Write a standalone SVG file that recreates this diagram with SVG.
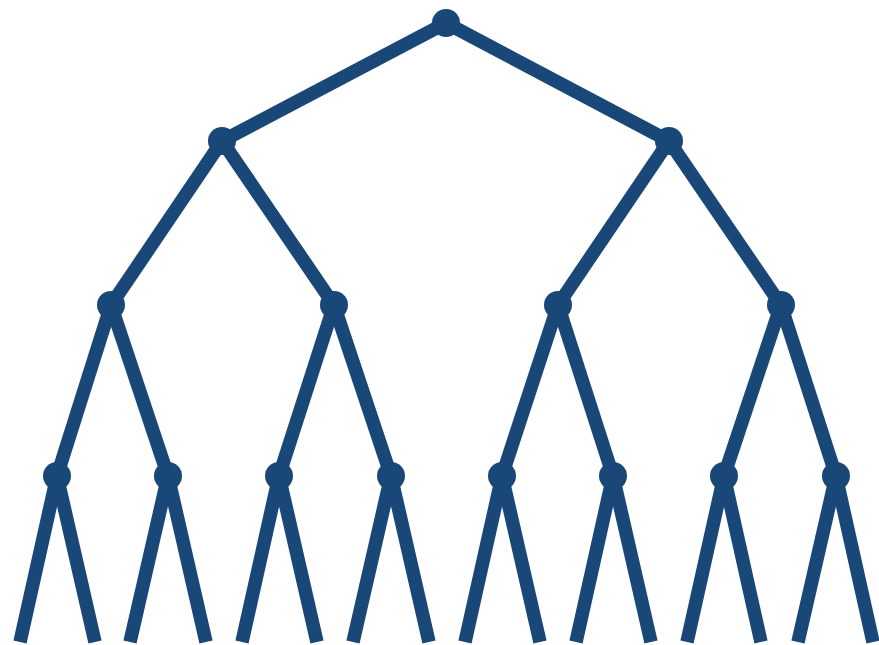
<svg xmlns="http://www.w3.org/2000/svg" width="879" height="645" viewBox="0 0 879 645">
<style>
.e{stroke:#194878;stroke-width:13.5;fill:none;stroke-linecap:butt}
.n{fill:#194878}
</style>
<rect width="879" height="645" fill="#ffffff"/>
<g id="connectors">
<line class="e" x1="446" y1="23" x2="222" y2="141"/>
<line class="e" x1="446" y1="23" x2="669" y2="141"/>
<line class="e" x1="222" y1="141" x2="111" y2="305"/>
<line class="e" x1="222" y1="141" x2="334" y2="305"/>
<line class="e" x1="669" y1="141" x2="558" y2="305"/>
<line class="e" x1="669" y1="141" x2="781" y2="305"/>
<line class="e" x1="111" y1="305" x2="57" y2="476"/>
<line class="e" x1="111" y1="305" x2="168" y2="476"/>
<line class="e" x1="334" y1="305" x2="279" y2="476"/>
<line class="e" x1="334" y1="305" x2="391" y2="476"/>
<line class="e" x1="558" y1="305" x2="502" y2="476"/>
<line class="e" x1="558" y1="305" x2="613" y2="476"/>
<line class="e" x1="781" y1="305" x2="724" y2="476"/>
<line class="e" x1="781" y1="305" x2="836" y2="476"/>
<line class="e" x1="57" y1="476" x2="20" y2="642"/>
<line class="e" x1="57" y1="476" x2="95" y2="642"/>
<line class="e" x1="168" y1="476" x2="130" y2="642"/>
<line class="e" x1="168" y1="476" x2="206" y2="642"/>
<line class="e" x1="279" y1="476" x2="242" y2="642"/>
<line class="e" x1="279" y1="476" x2="317" y2="642"/>
<line class="e" x1="391" y1="476" x2="353" y2="642"/>
<line class="e" x1="391" y1="476" x2="429" y2="642"/>
<line class="e" x1="502" y1="476" x2="465" y2="642"/>
<line class="e" x1="502" y1="476" x2="540" y2="642"/>
<line class="e" x1="613" y1="476" x2="576" y2="642"/>
<line class="e" x1="613" y1="476" x2="651" y2="642"/>
<line class="e" x1="724" y1="476" x2="687" y2="642"/>
<line class="e" x1="724" y1="476" x2="761" y2="642"/>
<line class="e" x1="836" y1="476" x2="798" y2="642"/>
<line class="e" x1="836" y1="476" x2="873" y2="642"/>
</g>
<g id="n0"><circle class="n" cx="446" cy="23" r="14"/></g>
<g id="n1"><circle class="n" cx="222" cy="141" r="14"/></g>
<g id="n2"><circle class="n" cx="669" cy="141" r="14"/></g>
<g id="n3"><circle class="n" cx="111" cy="305" r="14"/></g>
<g id="n4"><circle class="n" cx="334" cy="305" r="14"/></g>
<g id="n5"><circle class="n" cx="558" cy="305" r="14"/></g>
<g id="n6"><circle class="n" cx="781" cy="305" r="14"/></g>
<g id="n7"><circle class="n" cx="57" cy="476" r="14"/></g>
<g id="n8"><circle class="n" cx="168" cy="476" r="14"/></g>
<g id="n9"><circle class="n" cx="279" cy="476" r="14"/></g>
<g id="n10"><circle class="n" cx="391" cy="476" r="14"/></g>
<g id="n11"><circle class="n" cx="502" cy="476" r="14"/></g>
<g id="n12"><circle class="n" cx="613" cy="476" r="14"/></g>
<g id="n13"><circle class="n" cx="724" cy="476" r="14"/></g>
<g id="n14"><circle class="n" cx="836" cy="476" r="14"/></g>
</svg>
